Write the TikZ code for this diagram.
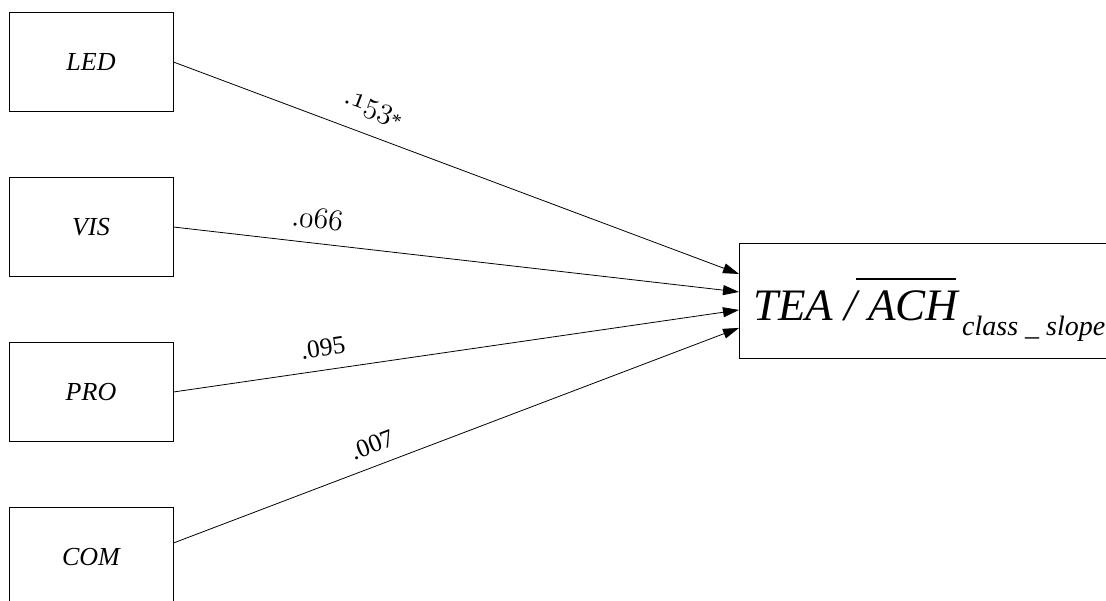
\documentclass[tikz,border=0pt]{standalone}
\usepackage{fontspec}
\setmainfont{Liberation Serif}
\usetikzlibrary{arrows.meta,calc}
\newcommand{\osnum}[1]{\scalebox{1.2}{\usefont{OML}{cmm}{m}{it}\fontsize{24.88}{28}\selectfont#1}}
\tikzset{
  varbox/.style={draw=black, line width=0.9pt, minimum width=164pt, minimum height=99pt,
    inner sep=0pt, font=\fontsize{26}{30}\selectfont\itshape},
  coef/.style={inner sep=0pt, font=\fontsize{25.5}{28}\selectfont},
  path/.style={draw=black, line width=0.8pt, -{Triangle[length=16pt,width=10pt]}}
}
\begin{document}
\begin{tikzpicture}[x=1pt,y=-1pt]
\useasboundingbox (0,0) rectangle (1106,601);
\clip (0,0) rectangle (1106,601);
\node[varbox] (LED) at (91,62) {LED};
\node[varbox] (VIS) at (91,227) {VIS};
\node[varbox] (PRO) at (91,392) {PRO};
\node[varbox] (COM) at (91,557) {COM};
\node[draw=black, line width=0.9pt, anchor=north west, minimum width=400pt,
  minimum height=115pt, inner sep=0pt] (T) at (739,243) {};
\node[anchor=base west, inner sep=0pt, font=\fontsize{45}{50}\selectfont\itshape] (Tlab) at (753,321)
  {TEA / ACH\hspace{4pt}\raisebox{-15pt}{\fontsize{28}{32}\selectfont class \_ slope}};
\draw[line width=1.8pt] (856,279) -- (956,279);
\draw[path] (LED.east) -- ($(T.west)+(0,-27)$);
\draw[path] (VIS.east) -- ($(T.west)+(0,-9)$);
\draw[path] (PRO.east) -- ($(T.west)+(0,9)$);
\draw[path] ($(COM.east)+(0,-14)$) -- ($(T.west)+(0,27)$);
\node[coef, rotate=-20.6] (c1) at (373,110) {.\osnum{153}\raisebox{-5pt}{\fontsize{20}{22}\selectfont*}};
\node[coef, rotate=-6.5] (c2) at (318,219) {.\osnum{066}};
\node[coef, rotate=8.3] (c3) at (323,348) {.095};
\node[coef, rotate=21] (c4) at (372,445) {.007};
\end{tikzpicture}
\end{document}
